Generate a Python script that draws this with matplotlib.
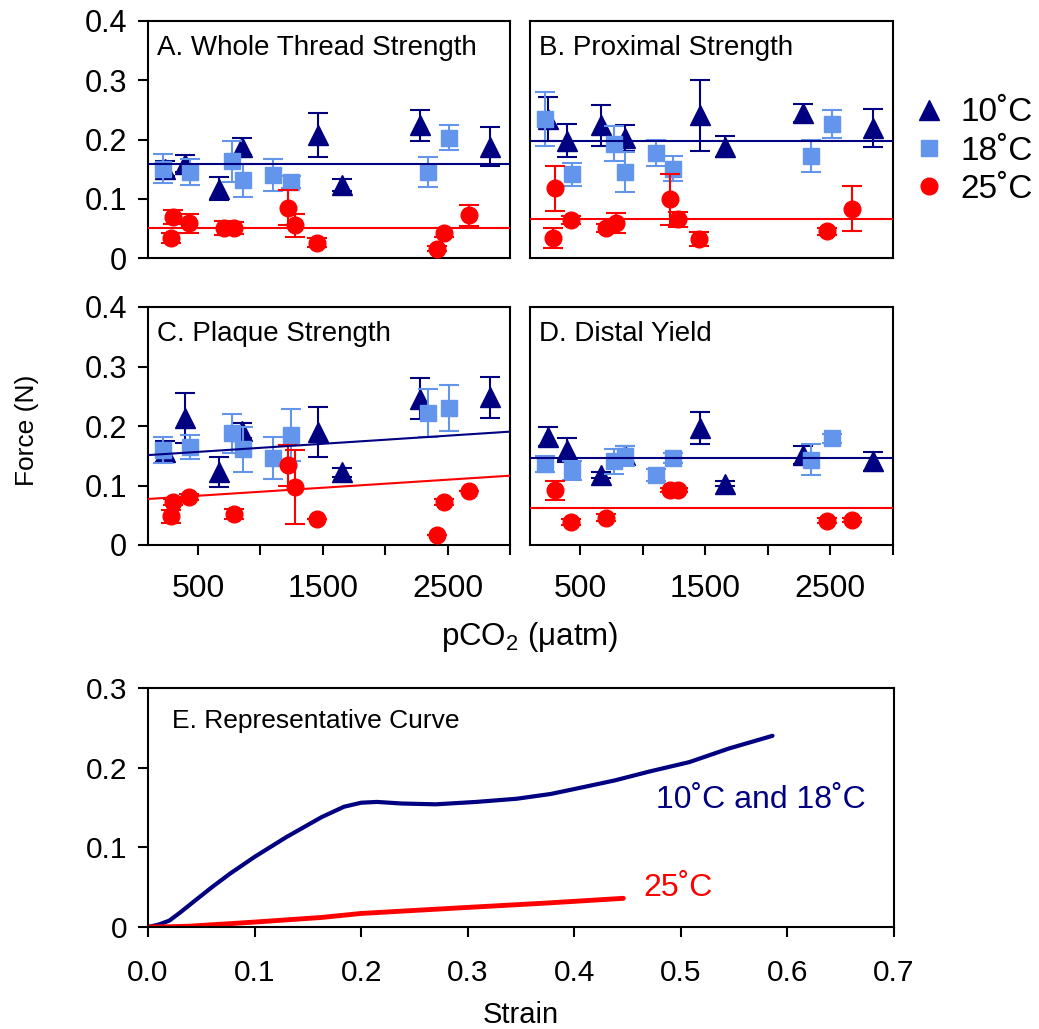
import numpy as np
import matplotlib
matplotlib.use("Agg")
import matplotlib.pyplot as plt
from matplotlib.lines import Line2D
from matplotlib.ticker import FuncFormatter

plt.rcParams['font.family'] = ['Liberation Sans', 'DejaVu Sans']
plt.rcParams['mathtext.fontset'] = 'custom'
plt.rcParams['mathtext.rm'] = 'Liberation Sans'
plt.rcParams['mathtext.it'] = 'Liberation Sans:italic'

NAVY = '#000080'
LBLUE = '#6495ED'
RED = '#FF0000'
DEG = '\u02da'

# pCO2 (uatm) of each treatment group
pco2_10 = [240, 395, 665, 856, 1460, 1655, 2278, 2840]
pco2_18 = [223, 437, 771, 860, 1103, 1244, 2345, 2513]
pco2_25 = [287, 303, 429, 705, 785, 1218, 1280, 1451, 2417, 2470, 2673]

nan = np.nan
# A. Whole thread strength
a10 = [0.151, 0.159, 0.117, 0.188, 0.207, 0.123, 0.224, 0.188]
a10e = [0.012, 0.014, 0.019, 0.015, 0.037, 0.010, 0.026, 0.033]
a18 = [0.151, 0.145, 0.163, 0.131, 0.140, 0.128, 0.145, 0.203]
a18e = [0.024, 0.022, 0.035, 0.028, 0.027, 0.010, 0.025, 0.021]
a25 = [0.034, 0.069, 0.059, 0.051, 0.051, 0.085, 0.055, 0.026, 0.016, 0.043, 0.072]
a25e = [0.008, 0.012, 0.016, 0.012, 0.010, 0.030, 0.019, 0.007, 0.005, 0.008, 0.018]
# B. Proximal strength
b10 = [0.235, 0.198, 0.224, 0.202, 0.241, 0.188, 0.245, 0.219]
b10e = [0.037, 0.028, 0.035, 0.022, 0.060, 0.018, 0.015, 0.032]
b18 = [0.235, 0.141, 0.193, 0.145, 0.177, 0.151, 0.172, 0.226]
b18e = [0.046, 0.019, 0.030, 0.034, 0.022, 0.021, 0.027, 0.023]
b25 = [0.034, 0.118, 0.064, 0.051, 0.059, 0.099, 0.065, 0.032, nan, 0.045, 0.083]
b25e = [0.017, 0.038, 0.007, 0.007, 0.017, 0.043, 0.012, 0.012, nan, 0.006, 0.038]
# C. Plaque strength
c10 = [0.157, 0.213, 0.123, 0.192, 0.190, 0.122, 0.246, 0.248]
c10e = [0.017, 0.042, 0.025, 0.013, 0.042, 0.008, 0.034, 0.035]
c18 = [0.160, 0.165, 0.188, 0.161, 0.146, 0.185, 0.222, 0.230]
c18e = [0.022, 0.020, 0.033, 0.038, 0.035, 0.044, 0.040, 0.039]
c25 = [0.048, 0.072, 0.081, nan, 0.052, 0.134, 0.097, 0.043, 0.016, 0.073, 0.091]
c25e = [0.011, 0.005, 0.005, nan, 0.008, 0.034, 0.062, 0.0, 0.0, 0.005, 0.0]
# D. Distal yield
d10 = [0.182, 0.160, 0.118, 0.151, 0.196, 0.103, 0.151, 0.141]
d10e = [0.016, 0.020, 0.005, 0.016, 0.027, 0.004, 0.015, 0.016]
d18 = [0.136, 0.126, 0.141, 0.150, 0.117, 0.146, 0.143, 0.179]
d18e = [0.013, 0.016, 0.021, 0.017, 0.010, 0.008, 0.026, 0.008]
d25 = [nan, 0.092, 0.038, 0.046, nan, 0.092, 0.092, nan, nan, 0.041, 0.042]
d25e = [nan, 0.016, 0.005, 0.006, nan, 0.003, 0.003, nan, nan, 0.004, 0.004]

# regression lines: (intercept, slope) for 10/18 pooled and 25
fit_cold = [(0.158, 0.0), (0.198, 0.0), (0.1497, 1.36e-5), (0.146, 0.0)]
fit_warm = [(0.051, 0.0), (0.065, 0.0), (0.0760, 1.35e-5), (0.063, 0.0)]

titles = ['A. Whole Thread Strength', 'B. Proximal Strength',
          'C. Plaque Strength', 'D. Distal Yield']

# E. representative curves
strain_cold = [0, 0.01, 0.02, 0.03, 0.044, 0.06, 0.077, 0.10, 0.13, 0.163, 0.184, 0.20,
               0.215, 0.238, 0.27, 0.308, 0.346, 0.378, 0.41, 0.438, 0.47, 0.508,
               0.545, 0.586]
force_cold = [0, 0.003, 0.008, 0.018, 0.033, 0.050, 0.067, 0.088, 0.113, 0.138, 0.151,
              0.156, 0.157, 0.155, 0.154, 0.157, 0.161, 0.167, 0.176, 0.184, 0.195,
              0.207, 0.224, 0.240]
strain_warm = [0, 0.02, 0.039, 0.098, 0.163, 0.20, 0.292, 0.373, 0.446]
force_warm = [0, 0.0003, 0.001, 0.006, 0.012, 0.017, 0.024, 0.030, 0.036]

fig = plt.figure(figsize=(10.39, 10.29), dpi=100)

W, H = 1039.0, 1029.0
def box(l, t, r, b):
    return [l / W, 1 - b / H, (r - l) / W, (b - t) / H]

pos = [box(148, 21, 510, 258), box(530, 21, 893, 258),
       box(148, 307, 510, 545), box(530, 307, 893, 545)]
data = [(a10, a10e, a18, a18e, a25, a25e), (b10, b10e, b18, b18e, b25, b25e),
        (c10, c10e, c18, c18e, c25, c25e), (d10, d10e, d18, d18e, d25, d25e)]

fmt0 = FuncFormatter(lambda v, p: '0' if abs(v) < 1e-9 else '%.1f' % v)
xs = np.array([100, 3000])

for i in range(4):
    ax = fig.add_axes(pos[i])
    y10, e10, y18, e18, y25, e25 = data[i]
    ax.errorbar(pco2_10, y10, yerr=e10, fmt='^', color=NAVY, ms=15, capsize=7,
                elinewidth=1.5, capthick=1.5, zorder=3)
    ax.errorbar(pco2_18, y18, yerr=e18, fmt='s', color=LBLUE, ms=11, capsize=7,
                elinewidth=1.5, capthick=1.5, zorder=4)
    ax.errorbar(pco2_25, y25, yerr=e25, fmt='o', color=RED, ms=12, capsize=7,
                elinewidth=1.5, capthick=1.5, zorder=5)
    ax.plot(xs, fit_cold[i][0] + fit_cold[i][1] * xs, color=NAVY, lw=1.5, zorder=6)
    ax.plot(xs, fit_warm[i][0] + fit_warm[i][1] * xs, color=RED, lw=1.5, zorder=6)
    ax.set_xlim(100, 3000)
    ax.set_ylim(0, 0.4)
    ax.text(0.025, 0.885, titles[i], transform=ax.transAxes, fontsize=20,
            ha='left', va='center')
    for s in ax.spines.values():
        s.set_linewidth(1.5)
    ax.set_yticks([0, 0.1, 0.2, 0.3, 0.4])
    ax.yaxis.set_major_formatter(fmt0)
    ax.set_xticks([500, 1000, 1500, 2000, 2500, 3000])
    ax.set_xticklabels(['500', '', '1500', '', '2500', ''])
    ax.tick_params(direction='out', length=7, width=1.5, labelsize=22)
    ax.tick_params(axis='x', pad=14, labelsize=23)
    ax.tick_params(axis='y', pad=8)
    if i % 2 == 1:
        ax.tick_params(axis='y', left=False, labelleft=False)
    if i < 2:
        ax.tick_params(axis='x', bottom=False, labelbottom=False)

fig.text(530 / W, 1 - 637 / H, 'pCO$_2$ (\u03bcatm)', fontsize=22.5, ha='center', va='center')
fig.text(27 / W, 1 - 430 / H, 'Force (N)', fontsize=19, rotation=90, ha='center', va='center')

handles = [Line2D([], [], ls='none', marker='^', color=NAVY, ms=15),
           Line2D([], [], ls='none', marker='s', color=LBLUE, ms=11),
           Line2D([], [], ls='none', marker='o', color=RED, ms=12)]
fig.legend(handles, ['10' + DEG + 'C', '18' + DEG + 'C', '25' + DEG + 'C'],
           loc='center left', bbox_to_anchor=(914 / W, 1 - 151 / H), frameon=False,
           fontsize=24, handlelength=0.9, handletextpad=0.5, labelspacing=0.22,
           borderpad=0, borderaxespad=0)

# E panel
axe = fig.add_axes(box(148, 688, 894, 927))
axe.plot(strain_cold, force_cold, color=NAVY, lw=3, solid_capstyle='round',
         solid_joinstyle='round')
axe.plot(strain_warm, force_warm, color=RED, lw=3.5, solid_capstyle='round',
         solid_joinstyle='round')
axe.set_xlim(0, 0.7)
axe.set_ylim(0, 0.3)
axe.set_xticks(np.arange(0, 0.71, 0.1))
axe.set_xticklabels(['%.1f' % v for v in np.arange(0, 0.71, 0.1)])
axe.set_yticks([0, 0.1, 0.2, 0.3])
axe.yaxis.set_major_formatter(fmt0)
for s in axe.spines.values():
    s.set_linewidth(1.5)
axe.tick_params(direction='out', length=7, width=1.5, labelsize=21.5)
axe.tick_params(axis='x', pad=16)
axe.tick_params(axis='y', pad=8)
axe.set_xlabel('Strain', fontsize=21, labelpad=10)
axe.text(0.032, 0.86, 'E. Representative Curve', transform=axe.transAxes,
         fontsize=19, ha='left', va='center')
axe.text(0.477, 0.159, '10' + DEG + 'C and 18' + DEG + 'C', fontsize=23, color=NAVY,
         ha='left', va='center')
axe.text(0.465, 0.049, '25' + DEG + 'C', fontsize=23, color=RED,
         ha='left', va='center')

fig.savefig('out.png', dpi=100)
